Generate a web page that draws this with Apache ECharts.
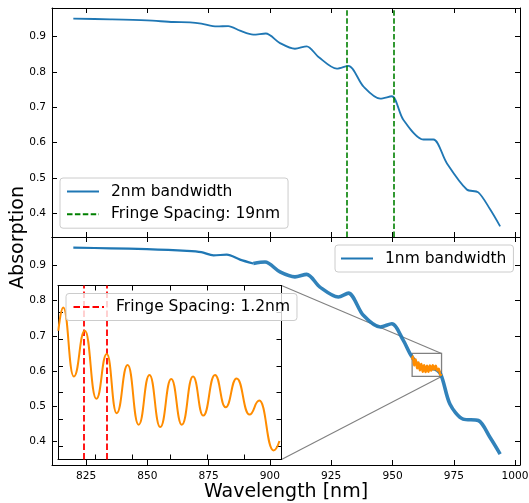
<!DOCTYPE html>
<html>
<head>
<meta charset="utf-8">
<script src="https://cdn.jsdelivr.net/npm/echarts@6/dist/echarts.min.js"></script>
<style>html,body{margin:0;padding:0;background:#fff;}#c{width:529px;height:503px;}</style>
</head>
<body>
<div id="c"></div>
<script>
// ---- data ----
// 2nm bandwidth (top panel)
var wl2nm  = [819.8, 835, 849.8, 860.6, 867.4, 872, 878.3, 883.0, 887.8, 893.2, 898.3, 904.1, 910.2, 915.0, 919.8, 927.3, 932.0, 938.1, 945.0, 949.7, 954.4, 962.6, 966.7, 972.1, 980.3, 985.0, 989.8, 993.9];
var abs2nm = [0.950, 0.948, 0.945, 0.9405, 0.9394, 0.936, 0.928, 0.929, 0.916, 0.905, 0.908, 0.881, 0.865, 0.872, 0.842, 0.809, 0.817, 0.759, 0.7245, 0.731, 0.665, 0.609, 0.609, 0.543, 0.468, 0.460, 0.412, 0.364];
// 1nm bandwidth (bottom panel), short-wavelength part
var wl1nmA  = [819.8, 835, 849.8, 866.1, 872, 877.0, 882.4, 887.8, 893.2];
var abs1nmA = [0.950, 0.948, 0.9455, 0.9406, 0.937, 0.928, 0.930, 0.916, 0.905];
// 1nm bandwidth, long-wavelength part (strong fringes)
var wl1nmB  = [893.2, 898, 904.1, 910.2, 915.0, 920.4, 927.9, 932.0, 938.1, 945.0, 949.7, 954.4, 957.8, 962.5, 966.5, 969.6, 973.4, 978.8, 985, 989.8, 993.9];
var abs1nmB = [0.905, 0.909, 0.881, 0.867, 0.874, 0.838, 0.81, 0.821, 0.758, 0.725, 0.734, 0.687, 0.642, 0.607, 0.607, 0.592, 0.507, 0.464, 0.460, 0.412, 0.365];
// zoomed region (inset)
var wlZoom  = [958.02, 958.28, 958.85, 959.44, 960.06, 960.62, 961.15, 961.74, 962.33, 962.91, 963.49, 964.08, 964.65, 965.25, 965.80, 966.43, 967.00, 967.59, 968.28, 968.81, 969.57, 969.89];
var absZoom = [0.6331, 0.6418, 0.6160, 0.6331, 0.6077, 0.6244, 0.6023, 0.6203, 0.5980, 0.6166, 0.5971, 0.6151, 0.5980, 0.6160, 0.6014, 0.6166, 0.6045, 0.6153, 0.6018, 0.6070, 0.5884, 0.5919];
// fringe markers
var fringe19 = [931.5, 950.3];
var fringe12 = [959.4, 960.6];
// inset limits
var insetX = [958, 970];
var insetY = [0.585, 0.650];
// ticks
var xTicks = [825, 850, 875, 900, 925, 950, 975, 1000];
var yTicks = [0.4, 0.5, 0.6, 0.7, 0.8, 0.9];
var insetXTicks = [958, 960, 962, 964, 966, 968, 970];
var insetYTicks = [0.59, 0.60, 0.61, 0.62, 0.63, 0.64];
var xRange = [811.1, 1002.0];
var yRange = [0.334, 0.980];

function zip(a, b) { return a.map(function (v, i) { return [v, b[i]]; }); }

var FONT = 'DejaVu Sans';
var BLUE = '#1f77b4', ORANGE = '#ff8c00', GREEN = '#008000', RED = '#ff0000', GRAY = '#808080';

function xAx(grid, pos, labels, range, ticks, extra) {
  var o = {
    type: 'value', gridIndex: grid, position: pos, min: range[0], max: range[1],
    axisLine: { show: true, onZero: false, lineStyle: { color: '#000', width: 1 } },
    axisTick: { show: true, inside: true, length: 5, customValues: ticks, lineStyle: { color: '#000', width: 1 } },
    axisLabel: labels ? { show: true, customValues: ticks, fontFamily: FONT, fontSize: 10.6, color: '#000', margin: 6,
      formatter: function (v) { return String(v); } } : { show: false },
    splitLine: { show: false }
  };
  if (extra) for (var k in extra) o[k] = extra[k];
  return o;
}
function yAx(grid, pos, labels, range, ticks) {
  return {
    type: 'value', gridIndex: grid, position: pos, min: range[0], max: range[1],
    axisLine: { show: true, onZero: false, lineStyle: { color: '#000', width: 1 } },
    axisTick: { show: true, inside: true, length: 5, customValues: ticks, lineStyle: { color: '#000', width: 1 } },
    axisLabel: labels ? { show: true, customValues: ticks, fontFamily: FONT, fontSize: 10.6, color: '#000', margin: 6,
      formatter: function (v) { return v.toFixed(1); } } : { show: false },
    splitLine: { show: false }
  };
}

var legendBase = {
  orient: 'vertical', itemWidth: 32, itemHeight: 14, itemGap: 6.7,
  backgroundColor: 'rgba(255,255,255,0.8)', borderColor: '#cccccc', borderWidth: 1, borderRadius: 3,
  textStyle: { fontFamily: FONT, fontSize: 15.5, color: '#000', lineHeight: 16, padding: [0, 0, 0, 7] },
  itemStyle: { opacity: 0 },
  selectedMode: false
};
function legend(extra) { var o = JSON.parse(JSON.stringify(legendBase)); for (var k in extra) o[k] = extra[k]; return o; }

var absText = { type: 'text', x: 18.5, y: 237.5, rotation: Math.PI / 2,
  style: { text: 'Absorption', fontFamily: FONT, fontSize: 19, fill: '#000', textAlign: 'center', textVerticalAlign: 'middle' } };

var option = {
  animation: false,
  backgroundColor: '#fff',
  grid: [
    { left: 52, top: 8, width: 468, height: 229, outerBoundsMode: 'none' },
    { left: 52, top: 237, width: 468, height: 228, outerBoundsMode: 'none' },
    { left: 58, top: 285.5, width: 223.5, height: 174, outerBoundsMode: 'none', show: true, backgroundColor: '#fff', borderWidth: 0, z: 3 }
  ],
  xAxis: [
    xAx(0, 'bottom', false, xRange, xTicks),
    xAx(0, 'top', false, xRange, xTicks),
    xAx(1, 'bottom', true, xRange, xTicks, { name: 'Wavelength [nm]', nameLocation: 'middle', nameGap: 18,
      nameTextStyle: { fontFamily: FONT, fontSize: 19, color: '#000' } }),
    xAx(1, 'top', false, xRange, xTicks),
    xAx(2, 'bottom', false, insetX, insetXTicks, { z: 4 }),
    xAx(2, 'top', false, insetX, insetXTicks, { z: 4 })
  ],
  yAxis: [
    yAx(0, 'left', true, yRange, yTicks),
    yAx(0, 'right', false, yRange, yTicks),
    yAx(1, 'left', true, yRange, yTicks),
    yAx(1, 'right', false, yRange, yTicks),
    Object.assign(yAx(2, 'left', false, insetY, insetYTicks), { z: 4 }),
    Object.assign(yAx(2, 'right', false, insetY, insetYTicks), { z: 4 })
  ],
  legend: [
    legend({ left: 60, top: 178, padding: [5.5, 8, 6, 6], data: ['2nm bandwidth', 'Fringe Spacing: 19nm'] }),
    legend({ left: 335, top: 245, padding: [5.5, 7, 5.5, 5], data: ['1nm bandwidth'] }),
    legend({ left: 66, top: 293.5, padding: [5.5, 7, 5.5, 6.5], itemWidth: 30.5, data: ['Fringe Spacing: 1.2nm'], z: 10 })
  ],
  graphic: [absText],
  series: [
    { name: '2nm bandwidth', type: 'line', xAxisIndex: 0, yAxisIndex: 0, data: zip(wl2nm, abs2nm),
      symbol: 'none', smooth: 0.3, color: BLUE, lineStyle: { color: BLUE, width: 1.8 } },
    { name: 'Fringe Spacing: 19nm', type: 'line', xAxisIndex: 0, yAxisIndex: 0, data: [],
      symbol: 'none', color: GREEN, lineStyle: { color: GREEN, width: 1.6, type: [5.5, 2.4] },
      markLine: { silent: true, symbol: ['none', 'none'], label: { show: false },
        lineStyle: { color: GREEN, width: 1.6, type: [5.5, 2.4] },
        data: fringe19.map(function (v) { return { xAxis: v }; }) } },
    { name: '1nm bandwidth', type: 'line', xAxisIndex: 2, yAxisIndex: 2, data: zip(wl1nmA, abs1nmA),
      symbol: 'none', smooth: 0.3, color: BLUE, lineStyle: { color: BLUE, width: 2.2 } },
    { name: '1nm-b', type: 'line', xAxisIndex: 2, yAxisIndex: 2, data: zip(wl1nmB, abs1nmB),
      symbol: 'none', smooth: 0.3, color: BLUE, lineStyle: { color: BLUE, width: 3.6, opacity: 0.92 } },
    { name: 'zoomed', type: 'line', xAxisIndex: 2, yAxisIndex: 2, data: zip(wlZoom, absZoom),
      symbol: 'none', smooth: 0.5, smoothMonotone: 'x', color: ORANGE, lineStyle: { color: ORANGE, width: 2.4 },
      markArea: { silent: true, itemStyle: { color: 'rgba(0,0,0,0)', borderColor: GRAY, borderWidth: 1.3 },
        data: [[{ xAxis: insetX[0], yAxis: insetY[0] }, { xAxis: insetX[1], yAxis: insetY[1] }]] } },
    { name: 'zoomed-inset', type: 'line', xAxisIndex: 4, yAxisIndex: 4, data: zip(wlZoom, absZoom), z: 5,
      symbol: 'none', smooth: 0.5, smoothMonotone: 'x', color: ORANGE, lineStyle: { color: ORANGE, width: 2 } },
    { name: 'Fringe Spacing: 1.2nm', type: 'line', xAxisIndex: 4, yAxisIndex: 4, data: [], z: 6,
      symbol: 'none', color: RED, lineStyle: { color: RED, width: 1.8, type: [6.5, 3] },
      markLine: { silent: true, symbol: ['none', 'none'], label: { show: false },
        lineStyle: { color: RED, width: 1.8, type: [6.5, 3] },
        data: fringe12.map(function (v) { return { xAxis: v }; }) } }
  ]
};

var chart = echarts.init(document.getElementById('c'), null, { renderer: 'canvas' });
chart.setOption(option);

// connector lines from the zoom box to the inset (mark_inset style)
var boxTR = chart.convertToPixel({ xAxisIndex: 2, yAxisIndex: 2 }, [insetX[1], insetY[1]]);
var boxBR = chart.convertToPixel({ xAxisIndex: 2, yAxisIndex: 2 }, [insetX[1], insetY[0]]);
var inTR = chart.convertToPixel({ xAxisIndex: 4, yAxisIndex: 4 }, [insetX[1], insetY[1]]);
var inBR = chart.convertToPixel({ xAxisIndex: 4, yAxisIndex: 4 }, [insetX[1], insetY[0]]);
chart.setOption({
  graphic: [
    absText,
    { type: 'line', z: 1, shape: { x1: inTR[0], y1: inTR[1], x2: boxTR[0], y2: boxTR[1] }, style: { stroke: GRAY, lineWidth: 1.1 } },
    { type: 'line', z: 1, shape: { x1: inBR[0], y1: inBR[1], x2: boxBR[0], y2: boxBR[1] }, style: { stroke: GRAY, lineWidth: 1.1 } }
  ]
});
</script>
</body>
</html>
